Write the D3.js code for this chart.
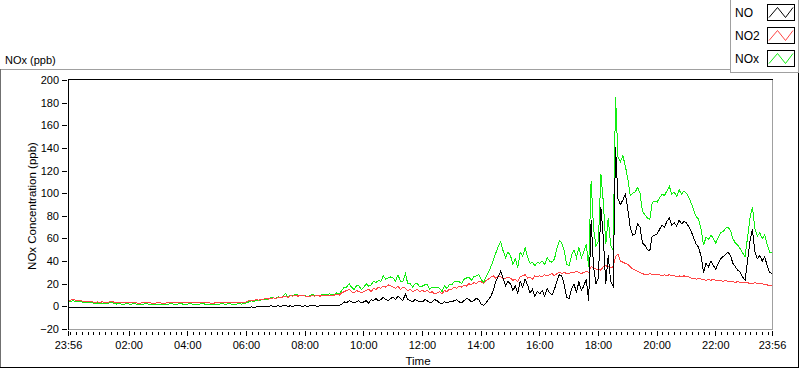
<!DOCTYPE html>
<html>
<head>
  <meta charset="UTF-8" />
  <title>NOx (ppb)</title>
  <script src="https://d3js.org/d3.v7.min.js"></script>
  <style>
    body { margin: 0; background: #fff; }
    svg text { font-family: "Liberation Sans", Arial, sans-serif; fill: #000; }
    .axis text { font-size: 11px; }
    .axis line, .axis path { shape-rendering: crispEdges; }
    .series { fill: none; stroke-width: 1; shape-rendering: crispEdges; }
  </style>
</head>
<body>
  <svg id="chart" width="800" height="369"></svg>
  <script>
    // samples every 5 minutes, starting 23:56 the day before (289 points)
    const startTime = new Date(2000, 0, 1, 23, 56);
    const endTime = new Date(2000, 0, 2, 23, 56);
    const stepMinutes = 5;

    const seriesNames = ["NO", "NO2", "NOx"];
    const seriesColors = ["#000000", "#ff4545", "#11ee11"];
    const yTicks = [-20, 0, 20, 40, 60, 80, 100, 120, 140, 160, 180, 200];
    const xLabelHours = [2, 4, 6, 8, 10, 12, 14, 16, 18, 20, 22];

    // one row per hour: hh:01, hh:06 ... hh:56
    const noValues = [-1,
      -1,-1,-1,-1,-1,-1,-1,-1,-1,-1,-1,-1,
      -1,-1,-1,-1,-1,-1,-1,-1,-1,-1,-1,-1,
      -1,-1,-1,-1,-1,-1,-1,-1,-1,-1,-1,-1,
      -1,-1,-1,-1,-1,-1,-1,-1,-1,-1,-1,-1,
      -1,-1,-1,-1,-1,-1,-1,-1,-1,-1,-1,-1,
      -1,-1,-1,-1,-1,-1,-1,-1,-1,-1,-1,-1,
      -1,-1,-0.5,-1,-0.5,0,-0.5,0,-0.5,0,0.5,0,
      0,0.5,0,0.5,1,0,0.5,0,0.5,1,0.5,0,
      0.5,0,0.5,1,0.5,0,0.5,1,0.5,0.5,1,0.5,
      0.5,1,1,2,4,3,5,4,3,4,5,3,
      4,5,3,6,5,7,5,6,8,6,5,7,
      8,6,9,7,5,11,6,5,4,6,5,4,
      4,6,5,3,4,6,5,3,2,4,3,4,
      4,5,6,4,3,5,7,6,4,5,7,6,
      2,1,3,6,9,14,22,26,31,25,18,22,
      20,14,18,12,22,17,24,19,12,15,9,13,
      11,14,9,16,12,10,15,22,28,27,19,8,
      7,15,20,12,22,14,18,24,5,76,35,20,
      25,88,60,20,45,22,18,141,95,90,94,99,
      86,70,63,64,73,70,56,54,50,49,62,63,
      64,68,72,70,75,78,72,74,71,76,73,75,
      74,70,66,60,55,52,44,30,38,35,40,36,
      33,38,42,44,46,48,45,38,35,32,30,26,
      23,40,58,68,48,42,45,40,44,36,30,29];

    const no2Values = [5.5,
      5.5,6,5.5,5,5.5,4.5,4,4.5,4,4,3.5,4,
      3.5,4,3.5,3.5,4,4.5,3.5,3,3.5,3,3,3.5,
      3,3,3.5,3,2.5,3,3,3.5,3,3,2.5,3,
      3,3,2.5,3,3,3.5,3,3,3,3.5,3,3,
      3,3.5,3,3,3,3,3.5,3,3,3,2.5,3,
      3,3,3.5,3,3,3.5,3,3,3,3.5,3,3.5,
      4,5,5.5,5,6,5.5,6,6.5,7,6.5,7,7.5,
      7,8,7.5,8.5,9,8,9.5,9,10,9,9.5,10,
      9,8.5,9,9.5,9,10,9,9.5,10,9.5,10,10,
      10,11,10,12,13,14,15,13,12,14,13,12,
      13,14,15,13,16,15,17,16,18,17,19,18,
      17,16,18,15,17,16,14,15,13,14,15,13,
      14,13,14,12,13,11,12,13,11,14,13,15,
      15,17,16,18,17,19,18,20,19,21,20,22,
      22,20,23,24,26,27,25,27,26,24,25,26,
      25,23,24,22,26,27,28,25,26,24,27,26,
      27,26,28,27,28,29,27,29,30,29,30,29,
      29,30,30,31,30,29,30,31,30,35,34,33,
      33,32,35,36,35,34,35,44,46,40,39,38,
      37,35,33,32,31,30,29,28,28,29,28,28,
      28,28,27,28,27,28,27,27,26,27,26,27,
      26,26,25,25,24,25,24,24,23,24,23,24,
      23,23,23,22,23,22,22,22,21,22,21,21,
      21,21,20,20,21,20,20,20,19,19,18,18];

    const noxValues = [4.5,
      4.5,5,4.5,4,4.5,3.5,3,3.5,3,3,2.5,3,
      2.5,3,2.5,2.5,3,3.5,2.5,2,2.5,2,2,2.5,
      2,2,2.5,2,1.5,2,2,2.5,2,2,1.5,2,
      2,2,1.5,2,2,2.5,2,2,2,2.5,2,2,
      2,2.5,2,2,2,2,2.5,2,2,2,1.5,2,
      2,2,2.5,2,2,2.5,2,2,2,2.5,2,2.5,
      3,4,5,4,5.5,5.5,5.5,6.5,6.5,6.5,7.5,7.5,
      7,8.5,7.5,9,11.5,8,10,9,10.5,10,10,10,
      9.5,8.5,9.5,10.5,9.5,10,9.5,10.5,10.5,10,11,10.5,
      10.5,12,11,14,17,17,20,17,15,18,18,15,
      17,20,18,19,22,21,23,22,27,24,25,26,
      25,22,28,22,22,29,20,20,17,20,20,17,
      18,19,19,15,17,17,17,16,13,18,16,19,
      19,22,22,22,20,24,25,26,23,26,27,28,
      24,21,26,30,35,41,47,53,57,49,43,48,
      45,37,42,34,48,44,52,44,38,39,36,39,
      38,40,37,43,40,39,42,51,58,56,49,37,
      36,45,50,43,52,43,48,55,35,111,69,53,
      58,117,92,55,78,54,50,185,132,128,133,124,
      113,98,100,101,105,100,84,81,78,77,92,93,
      92,96,99,98,102,106,99,101,97,103,99,102,
      100,96,91,85,79,77,68,54,61,59,63,60,
      56,61,65,66,69,70,67,60,56,54,51,47,
      44,61,78,88,69,62,65,60,63,55,48,47];

    const seriesValues = [noValues, no2Values, noxValues];

    const svg = d3.select("#chart");
    const plot = { left: 68, right: 772, top: 80, bottom: 329 };

    const x = d3.scaleTime().domain([startTime, endTime]).range([plot.left, plot.right]);
    const y = d3.scaleLinear().domain([-20, 200]).range([plot.bottom, plot.top]);
    const timeAt = i => d3.timeMinute.offset(startTime, i * stepMinutes);

    svg.append("rect").attr("width", 800).attr("height", 369).attr("fill", "#fff");

    // outer frame of the graph
    const frame = svg.append("g").attr("shape-rendering", "crispEdges");
    frame.append("line").attr("x1", 0).attr("x2", 731).attr("y1", 69.5).attr("y2", 69.5).attr("stroke", "#a0a0a0");
    frame.append("line").attr("x1", 0.5).attr("x2", 0.5).attr("y1", 69).attr("y2", 368).attr("stroke", "#707070");
    frame.append("line").attr("x1", 0).attr("x2", 799).attr("y1", 367.5).attr("y2", 367.5).attr("stroke", "#000");
    frame.append("line").attr("x1", 798.5).attr("x2", 798.5).attr("y1", 72).attr("y2", 368).attr("stroke", "#000");

    svg.append("text").attr("x", 5).attr("y", 64).attr("font-size", "11px").text("NOx (ppb)");

    // plot area borders
    frame.append("line").attr("x1", plot.right + 0.5).attr("x2", plot.right + 0.5)
      .attr("y1", plot.top).attr("y2", plot.bottom + 1).attr("stroke", "#a0a0a0");
    frame.append("line").attr("x1", plot.left).attr("x2", plot.right + 1)
      .attr("y1", plot.bottom + 0.5).attr("y2", plot.bottom + 0.5).attr("stroke", "#a0a0a0");
    frame.append("line").attr("x1", plot.left).attr("x2", plot.right + 1)
      .attr("y1", plot.top - 0.5).attr("y2", plot.top - 0.5).attr("stroke", "#000");
    frame.append("line").attr("x1", plot.left + 0.5).attr("x2", plot.left + 0.5)
      .attr("y1", plot.top - 1).attr("y2", plot.bottom + 1).attr("stroke", "#000");

    // y axis
    const yAxis = svg.append("g").attr("class", "axis")
      .attr("transform", `translate(${plot.left - 1},0)`)
      .call(d3.axisLeft(y).tickValues(yTicks).tickSize(5).tickPadding(3));
    yAxis.select(".domain").remove();
    yAxis.selectAll("line").attr("stroke", "#000");

    svg.append("text")
      .attr("transform", `translate(36,206) rotate(-90)`)
      .attr("text-anchor", "middle")
      .attr("font-size", "11.5px")
      .text("NOx Concentration (ppb)");

    // x axis: minor ticks every 12 min, major every 2 h plus both ends
    const xMinor = svg.append("g").attr("class", "axis")
      .attr("transform", `translate(0,${plot.bottom + 3})`)
      .call(d3.axisBottom(x).ticks(d3.timeMinute.every(12)).tickSize(3).tickFormat(""));
    xMinor.select(".domain").remove();
    xMinor.selectAll("line").attr("stroke", "#000");

    const majorTimes = [startTime].concat(xLabelHours.map(h => new Date(2000, 0, 2, h, 0)), [endTime]);
    const xMajor = svg.append("g").attr("class", "axis")
      .attr("transform", `translate(0,${plot.bottom + 2})`)
      .call(d3.axisBottom(x).tickValues(majorTimes).tickSize(5).tickPadding(5)
        .tickFormat(d3.timeFormat("%H:%M")));
    xMajor.select(".domain").remove();
    xMajor.selectAll("line").attr("stroke", "#000");

    svg.append("text").attr("x", 418).attr("y", 365).attr("text-anchor", "middle")
      .attr("font-size", "11.5px").text("Time");

    // data lines, clipped to the plot area
    svg.append("clipPath").attr("id", "plot-clip")
      .append("rect").attr("x", plot.left + 1).attr("y", plot.top)
      .attr("width", plot.right - plot.left - 1).attr("height", plot.bottom - plot.top);

    const line = d3.line().x((d, i) => x(timeAt(i))).y(d => y(d));
    const lines = svg.append("g").attr("clip-path", "url(#plot-clip)");
    [2, 1, 0].forEach(k => {
      lines.append("path").attr("class", "series")
        .attr("stroke", seriesColors[k])
        .attr("d", line(seriesValues[k]));
    });

    // legend
    const legend = svg.append("g");
    legend.append("rect").attr("x", 730.5).attr("y", -1).attr("width", 68).attr("height", 73.5)
      .attr("fill", "#fff").attr("stroke", "#a0a0a0").attr("shape-rendering", "crispEdges");
    const swatchLine = d3.line();
    seriesNames.forEach((name, k) => {
      const top = 4 + k * 23;
      legend.append("text").attr("x", 735).attr("y", top + 13).attr("font-size", "12px").text(name);
      legend.append("rect").attr("x", 767.5).attr("y", top + 0.5).attr("width", 27).attr("height", 16)
        .attr("fill", "#fff").attr("stroke", "#000").attr("shape-rendering", "crispEdges");
      legend.append("path")
        .attr("d", swatchLine([[769, top + 13.5], [777.5, top + 3.5], [785.5, top + 13.5], [793, top + 3.5]]))
        .attr("fill", "none").attr("stroke", seriesColors[k]).attr("stroke-width", 1);
    });
  </script>
</body>
</html>
